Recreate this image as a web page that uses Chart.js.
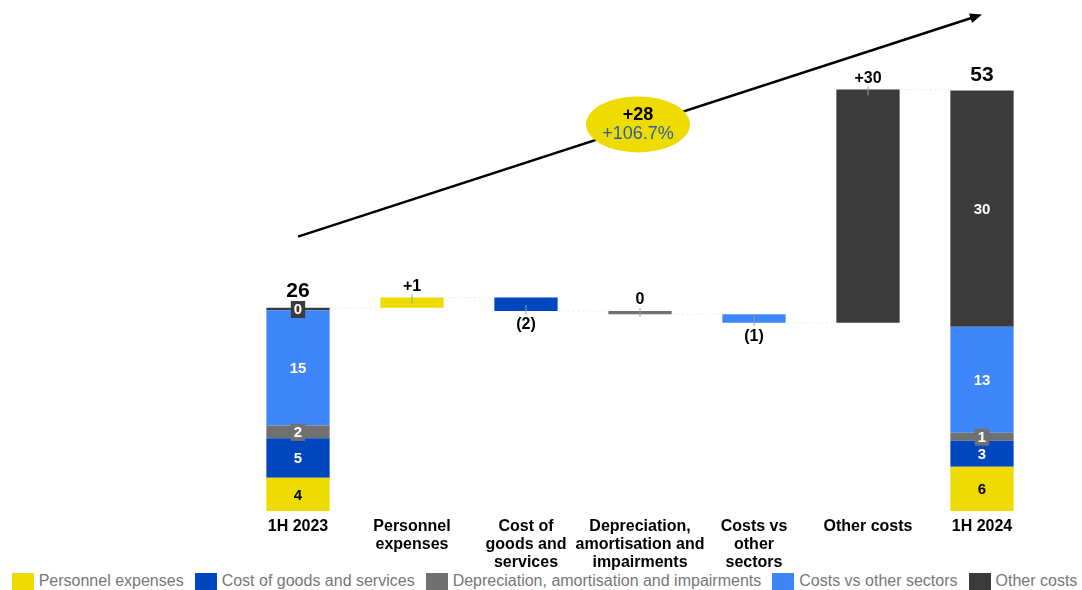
<!DOCTYPE html>
<html>
<head>
<meta charset="utf-8">
<script src="https://cdn.jsdelivr.net/npm/chart.js@4.4.1/dist/chart.umd.min.js"></script>
<style>
  html, body { margin: 0; padding: 0; background: #fff; }
  canvas { display: block; }
  #legend { width: 1075px; padding-left: 7px; height: 18px; display: flex; justify-content: center; align-items: center;
    font-family: Arial, "Liberation Sans", sans-serif; font-size: 16px; color: #777; white-space: nowrap; }
  #legend .item { display: flex; align-items: center; margin: 0 5.5px; }
  #legend .box { width: 22px; height: 17px; margin-right: 5px; }
</style>
</head>
<body>
<canvas id="costChart" width="1082" height="572"></canvas>
<div id="legend"></div>
<script>
const categories = [['1H 2023'], ['Personnel', 'expenses'], ['Cost of', 'goods and', 'services'],
  ['Depreciation,', 'amortisation and', 'impairments'], ['Costs vs', 'other', 'sectors'], ['Other costs'], ['1H 2024']];
const seriesNames = ['Personnel expenses', 'Cost of goods and services', 'Depreciation, amortisation and impairments',
  'Costs vs other sectors', 'Other costs'];
const seriesColors = ['#EEDC00', '#0046BE', '#707070', '#3E86F8', '#3B3B3B'];

// stacked components of the two totals, and the change per cost item
const values2023 = [4.2, 5.0, 1.6, 14.6, 0.3];
const values2024 = [5.6, 3.3, 1.0, 13.4, 29.9];
const deltas = [1.3, -1.7, -0.4, -1.1, 29.5];

const labels2023 = ['4', '5', '2', '15', '0'];
const labels2024 = ['6', '3', '1', '13', '30'];
const deltaLabels = ['+1', '(2)', '0', '(1)', '+30'];
const totalLabels = ['26', '53'];
const growthLabels = ['+28', '+106.7%'];

// trend arrow and bubble, in category index / value units
const trendFrom = [0, 34.7];
const trendTo = [6, 62.8];
const bubbleAt = [3, 48.9];

const FONT = 'Arial, "Liberation Sans", sans-serif';

function sum(arr, n) {
  let s = 0;
  for (let i = 0; i < n; i++) s += arr[i];
  return s;
}

const total2023 = sum(values2023, values2023.length);

const datasets = seriesNames.map((name, s) => {
  const data = new Array(categories.length).fill(null);
  const b0 = sum(values2023, s);
  data[0] = [b0, b0 + values2023[s]];
  const run = total2023 + sum(deltas, s);
  data[s + 1] = [run, run + deltas[s]];
  const b6 = sum(values2024, s);
  data[6] = [b6, b6 + values2024[s]];
  return {
    label: name,
    data: data,
    backgroundColor: seriesColors[s],
    borderWidth: 0,
    categoryPercentage: 1,
    barPercentage: 0.555
  };
});

const labelPlugin = {
  id: 'labelPlugin',
  afterDatasetsDraw(chart) {
    const ctx = chart.ctx;
    const xs = chart.scales.x, ys = chart.scales.y;
    ctx.save();
    ctx.textAlign = 'center';
    ctx.textBaseline = 'middle';

    // faint connectors between the floating bars
    ctx.strokeStyle = '#ebebeb';
    ctx.lineWidth = 1;
    ctx.setLineDash([2, 3]);
    let level = total2023;
    for (let i = 0; i < 6; i++) {
      if (i > 0) level += deltas[i - 1];
      const el = chart.getDatasetMeta(i === 0 ? 4 : i - 1).data[i];
      const y = ys.getPixelForValue(level);
      const half = el.width / 2;
      ctx.beginPath();
      ctx.moveTo(el.x + half, y);
      ctx.lineTo(xs.getPixelForValue(i + 1) - half, y);
      ctx.stroke();
    }
    ctx.setLineDash([]);

    // segment labels on the two total bars
    [[0, labels2023], [6, labels2024]].forEach(([idx, labs]) => {
      labs.forEach((t, s) => {
        const el = chart.getDatasetMeta(s).data[idx];
        const top = Math.min(el.y, el.base), bottom = Math.max(el.y, el.base);
        const cy = (top + bottom) / 2;
        ctx.font = 'bold 15px ' + FONT;
        if (bottom - top < 14) {
          const w = ctx.measureText(t).width + 6;
          ctx.fillStyle = seriesColors[s];
          ctx.fillRect(el.x - w / 2, cy - 8, w, 17);
        }
        ctx.fillStyle = s === 0 ? '#000' : '#fff';
        ctx.fillText(t, el.x, cy + 1);
      });
    });

    // totals above the two bars
    [[0, totalLabels[0], 17], [6, totalLabels[1], 15]].forEach(([idx, t, off]) => {
      let top = Infinity, x = 0;
      for (let s = 0; s < seriesNames.length; s++) {
        const el = chart.getDatasetMeta(s).data[idx];
        top = Math.min(top, el.y, el.base);
        x = el.x;
      }
      ctx.font = 'bold 21px ' + FONT;
      ctx.fillStyle = '#000';
      ctx.fillText(t, x, top - off);
    });

    // delta labels with the small tick into the bar
    deltaLabels.forEach((t, s) => {
      const el = chart.getDatasetMeta(s).data[s + 1];
      const top = Math.min(el.y, el.base), bottom = Math.max(el.y, el.base);
      const below = t.startsWith('(');
      ctx.strokeStyle = '#9a9a9a';
      ctx.lineWidth = 1;
      ctx.beginPath();
      if (!below) {
        ctx.moveTo(el.x, top - 3); ctx.lineTo(el.x, top + 6);
      } else {
        ctx.moveTo(el.x, bottom - 6); ctx.lineTo(el.x, bottom + 3);
      }
      ctx.stroke();
      ctx.font = 'bold 16px ' + FONT;
      ctx.fillStyle = '#000';
      if (!below) ctx.fillText(t, el.x, top - 11);
      else ctx.fillText(t, el.x, bottom + 14);
    });

    // trend arrow
    const x1 = xs.getPixelForValue(trendFrom[0]), y1 = ys.getPixelForValue(trendFrom[1]);
    const x2 = xs.getPixelForValue(trendTo[0]), y2 = ys.getPixelForValue(trendTo[1]);
    const ang = Math.atan2(y2 - y1, x2 - x1);
    const c = Math.cos(ang), sn = Math.sin(ang);
    ctx.strokeStyle = '#000';
    ctx.fillStyle = '#000';
    ctx.lineWidth = 2.5;
    ctx.beginPath();
    ctx.moveTo(x1, y1);
    ctx.lineTo(x2 - 8 * c, y2 - 8 * sn);
    ctx.stroke();
    ctx.beginPath();
    ctx.moveTo(x2, y2);
    ctx.lineTo(x2 - 12 * c + 5 * sn, y2 - 12 * sn - 5 * c);
    ctx.lineTo(x2 - 12 * c - 5 * sn, y2 - 12 * sn + 5 * c);
    ctx.closePath();
    ctx.fill();

    // growth bubble
    const bx = xs.getPixelForValue(bubbleAt[0]) - 2, by = ys.getPixelForValue(bubbleAt[1]);
    ctx.fillStyle = '#EEDC00';
    ctx.beginPath();
    ctx.ellipse(bx, by, 52, 28, 0, 0, Math.PI * 2);
    ctx.fill();
    ctx.font = 'bold 18px ' + FONT;
    ctx.fillStyle = '#000';
    ctx.fillText(growthLabels[0], bx, by - 9);
    ctx.font = '18px ' + FONT;
    ctx.fillStyle = '#2F5EA8';
    ctx.fillText(growthLabels[1], bx, by + 10);
    ctx.restore();
  }
};

const hiddenSide = (w) => ({
  display: true,
  ticks: { display: false },
  grid: { display: false },
  border: { display: false },
  afterFit: (s) => { s.width = w; }
});

new Chart(document.getElementById('costChart'), {
  type: 'bar',
  data: { labels: categories, datasets: datasets },
  options: {
    responsive: false,
    devicePixelRatio: 1,
    animation: false,
    layout: { padding: { top: 5 } },
    scales: {
      x: {
        stacked: true,
        grid: { display: false, drawTicks: false },
        border: { display: false },
        ticks: { color: '#000', padding: 7, maxRotation: 0, autoSkip: false,
          font: { family: FONT, size: 16, weight: 'bold', lineHeight: 1.125 } },
        afterFit: (s) => { s.height = 61; }
      },
      y: Object.assign({ min: 0, max: 64, position: 'left' }, hiddenSide(241)),
      yRight: Object.assign({ type: 'linear', min: 0, max: 64, position: 'right' }, hiddenSide(43))
    },
    plugins: {
      tooltip: { enabled: false },
      legend: { display: false }
    }
  },
  plugins: [labelPlugin]
});

const legend = document.getElementById('legend');
seriesNames.forEach((name, s) => {
  const item = document.createElement('div');
  item.className = 'item';
  const box = document.createElement('span');
  box.className = 'box';
  box.style.background = seriesColors[s];
  const txt = document.createElement('span');
  txt.textContent = name;
  item.appendChild(box);
  item.appendChild(txt);
  legend.appendChild(item);
});
</script>
</body>
</html>
